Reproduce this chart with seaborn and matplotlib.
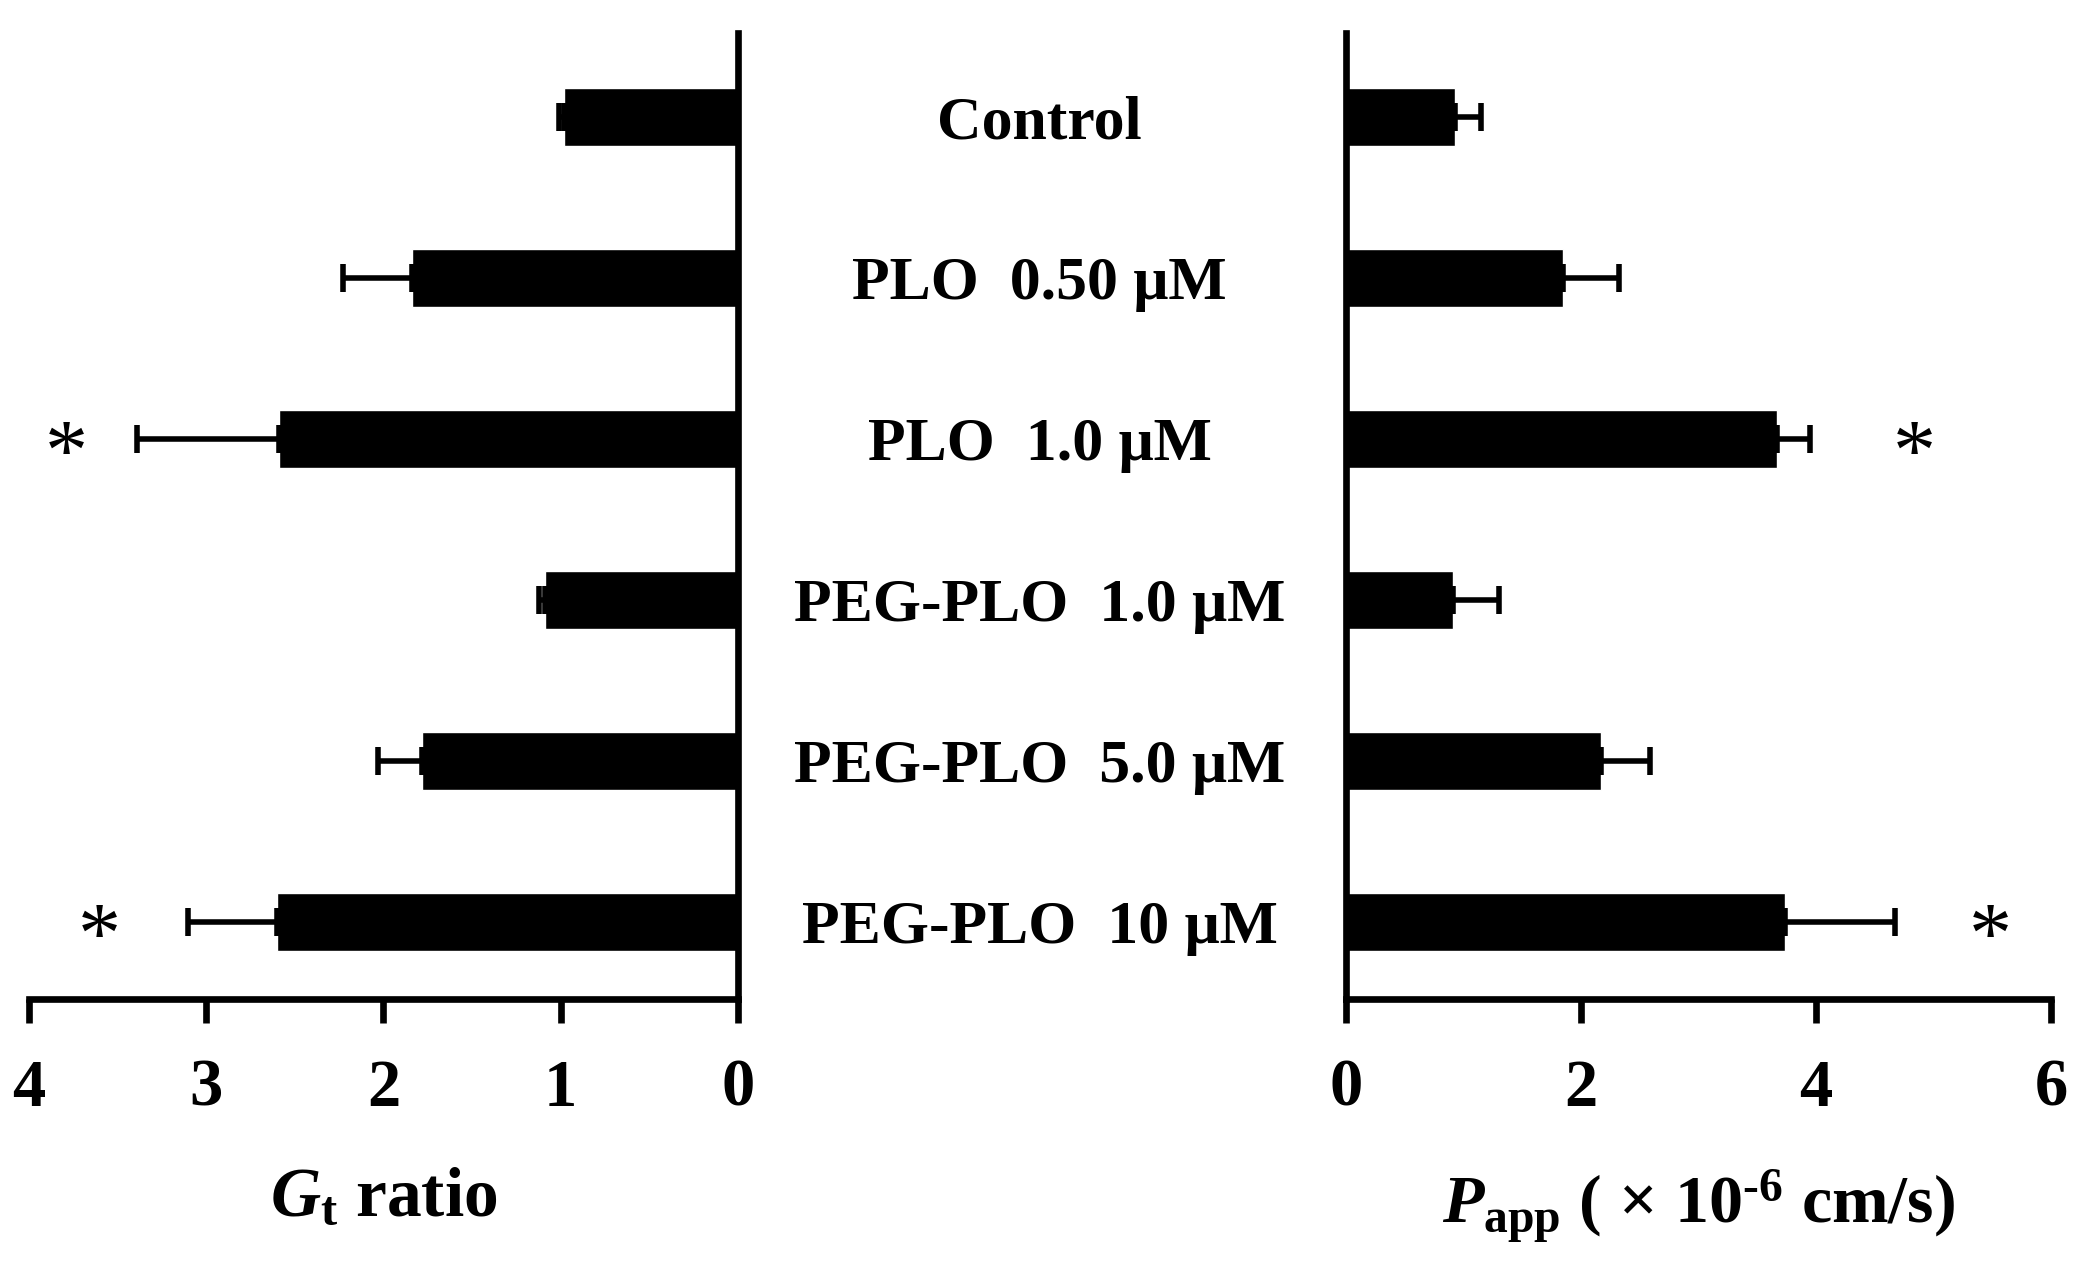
import matplotlib
matplotlib.use("Agg")
import matplotlib.pyplot as plt
import matplotlib.transforms as mtransforms
import seaborn as sns
import pandas as pd

categories = ["Control", "PLO  0.50 μM", "PLO  1.0 μM",
              "PEG-PLO  1.0 μM", "PEG-PLO  5.0 μM", "PEG-PLO  10 μM"]
gt_ratio = [0.98, 1.84, 2.59, 1.09, 1.78, 2.60]
gt_err = [0.03, 0.39, 0.80, 0.03, 0.25, 0.50]
papp = [0.93, 1.85, 3.67, 0.91, 2.17, 3.74]
papp_err = [0.22, 0.47, 0.28, 0.39, 0.42, 0.93]
gt_star = [None, None, 3.79, None, None, 3.60]
papp_star = [None, None, 4.84, None, None, 5.48]
gt_ticks = [4, 3, 2, 1, 0]
papp_ticks = [0, 2, 4, 6]

sns.set_theme(style="white")
plt.rcParams["font.family"] = ["Liberation Serif", "DejaVu Serif"]
plt.rcParams["font.weight"] = "bold"
plt.rcParams["text.color"] = "black"
plt.rcParams["axes.labelcolor"] = "black"
plt.rcParams["xtick.color"] = "black"
plt.rcParams["ytick.color"] = "black"
plt.rcParams["mathtext.fontset"] = "custom"
plt.rcParams["mathtext.rm"] = "Liberation Serif:bold"
plt.rcParams["mathtext.it"] = "Liberation Serif:italic:bold"
plt.rcParams["mathtext.bf"] = "Liberation Serif:bold"

df = pd.DataFrame({"cat": categories, "gt": gt_ratio, "papp": papp})

fig = plt.figure(figsize=(20.81, 12.64), dpi=100)
axL = fig.add_axes([0.0139, 0.2097, 0.3407, 0.764])
axR = fig.add_axes([0.6468, 0.2097, 0.3388, 0.764])

LW = 4.8
for ax, col, err, ticks, lim, side, stars in [
        (axL, "gt", gt_err, gt_ticks, (4, 0), "right", gt_star),
        (axR, "papp", papp_err, papp_ticks, (0, 6), "left", papp_star)]:
    sns.barplot(data=df, y="cat", x=col, orient="h", color="black",
                saturation=1, width=0.36, ax=ax, errorbar=None)
    vals = df[col].values
    ax.errorbar(vals, range(len(vals)), xerr=[[0] * len(vals), err],
                fmt="none", ecolor="black", elinewidth=4, capsize=10,
                capthick=4, zorder=1)
    for i, s in enumerate(stars):
        if s is not None:
            ax.text(s, i + 0.12, "*", ha="center", va="center",
                    fontsize=62, fontweight="normal", color="black")
    ax.set_xlim(*lim)
    ax.set_ylim(5.48, -0.52)
    ax.set_xticks(ticks)
    ax.set_xticklabels([str(t) for t in ticks])
    ax.set_yticks([])
    ax.set_ylabel("")
    for sp in ["top", "left", "right", "bottom"]:
        ax.spines[sp].set_visible(False)
    ax.spines["bottom"].set_visible(True)
    ax.spines[side].set_visible(True)
    for sp in ["bottom", side]:
        ax.spines[sp].set_linewidth(LW)
        ax.spines[sp].set_color("black")
    ax.tick_params(axis="x", direction="out", length=17, width=LW,
                   color="black", labelcolor="black", labelsize=48, pad=26,
                   bottom=True)
    ax.set_facecolor("white")

axL.set_xlabel(r"$G_{\mathrm{t}}$ ratio", fontsize=50, fontweight="bold",
               labelpad=34, color="black")
axR.set_xlabel(r"$P_{\mathrm{app}}$ ( × 10$^{\mathrm{‐6}}$ cm/s)", fontsize=49,
               fontweight="bold", labelpad=34, color="black")

trans = mtransforms.blended_transform_factory(fig.transFigure, axL.transData)
for i, c in enumerate(categories):
    fig.text(0.4995, i + 0.04, c, transform=trans, ha="center", va="center",
             fontsize=44.5, fontweight="bold", color="black")

fig.savefig("out.png", dpi=100, facecolor="white")
